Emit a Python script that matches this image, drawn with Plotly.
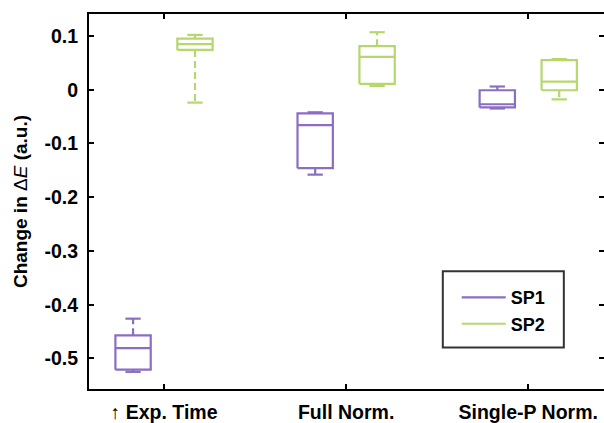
import plotly.graph_objects as go

# ---- data ----
categories = ["\u2191 Exp. Time", "Full Norm.", "Single-P Norm."]
positions = [1, 2, 3]

sp1_lower = [-0.525, -0.158, -0.035]
sp1_q1 = [-0.521, -0.146, -0.033]
sp1_median = [-0.481, -0.066, -0.027]
sp1_q3 = [-0.457, -0.044, -0.001]
sp1_upper = [-0.426, -0.042, 0.006]

sp2_lower = [-0.024, 0.007, -0.018]
sp2_q1 = [0.074, 0.011, -0.001]
sp2_median = [0.085, 0.061, 0.015]
sp2_q3 = [0.095, 0.081, 0.055]
sp2_upper = [0.102, 0.107, 0.057]

y_tickvals = [-0.5, -0.4, -0.3, -0.2, -0.1, 0, 0.1]
y_ticktext = ["-0.5", "-0.4", "-0.3", "-0.2", "-0.1", "0", "0.1"]

# ---- style ----
PURPLE = "#8a6ec2"
GREEN = "#b5d86c"
FONT = "Liberation Sans, Arial, sans-serif"
OFFSET = 0.17
HALF_W = 0.097
CAP_HALF = 0.042
LW = 2.2

series = [
    ("SP1", PURPLE, -OFFSET, sp1_lower, sp1_q1, sp1_median, sp1_q3, sp1_upper),
    ("SP2", GREEN, +OFFSET, sp2_lower, sp2_q1, sp2_median, sp2_q3, sp2_upper),
]

fig = go.Figure()

for name, color, off, lo, q1, med, q3, hi in series:
    bx, by = [], []
    wx, wy = [], []
    cx, cy = [], []
    for p, a, b, m, c, d in zip(positions, lo, q1, med, q3, hi):
        x = p + off
        # box outline
        bx += [x - HALF_W, x + HALF_W, x + HALF_W, x - HALF_W, x - HALF_W, None]
        by += [b, b, c, c, b, None]
        # median
        bx += [x - HALF_W, x + HALF_W, None]
        by += [m, m, None]
        # whiskers
        wx += [x, x, None, x, x, None]
        wy += [c, d, None, b, a, None]
        # caps
        cx += [x - CAP_HALF, x + CAP_HALF, None, x - CAP_HALF, x + CAP_HALF, None]
        cy += [d, d, None, a, a, None]
    fig.add_trace(go.Scatter(x=wx, y=wy, mode="lines", name=name, legendgroup=name,
                             showlegend=False, hoverinfo="skip",
                             line=dict(color=color, width=LW, dash="7px,4px")))
    fig.add_trace(go.Scatter(x=cx, y=cy, mode="lines", name=name, legendgroup=name,
                             showlegend=False, hoverinfo="skip",
                             line=dict(color=color, width=LW)))
    fig.add_trace(go.Scatter(x=bx, y=by, mode="lines", name=name, legendgroup=name,
                             showlegend=True,
                             line=dict(color=color, width=LW)))

# invisible trace to carry the right-hand y axis ticks
fig.add_trace(go.Scatter(x=[None], y=[None], yaxis="y2", showlegend=False, hoverinfo="skip"))

fig.update_layout(
    width=604, height=423,
    margin=dict(l=89, r=0, t=14, b=34, autoexpand=False),
    paper_bgcolor="white", plot_bgcolor="white",
    font=dict(family=FONT, size=19, color="black"),
    showlegend=True,
    legend=dict(
        x=0.714, y=0.293, xanchor="left", yanchor="top",
        bgcolor="rgba(0,0,0,0)", borderwidth=0,
        font=dict(family=FONT, size=18, color="black", weight="bold"),
        tracegroupgap=0, itemwidth=44,
    ),
    xaxis=dict(
        range=[0.588, 3.416], tickvals=positions, ticktext=categories,
        showgrid=False, zeroline=False, automargin=False,
        showline=True, linecolor="black", linewidth=2, mirror="ticks",
        ticks="inside", ticklen=5, tickwidth=2, tickcolor="black",
        tickfont=dict(family=FONT, size=19.5, color="black", weight="bold"),
        ticklabelstandoff=5,
    ),
    yaxis=dict(
        range=[-0.5569, 0.1409], tickvals=y_tickvals, ticktext=y_ticktext,
        showgrid=False, zeroline=False, automargin=False,
        showline=True, linecolor="black", linewidth=2, mirror=False,
        ticks="inside", ticklen=5, tickwidth=2, tickcolor="black",
        tickfont=dict(family=FONT, size=19.5, color="black", weight="bold"),
        ticklabelstandoff=5,
        title=dict(text="<b>Change in </b>\u0394<i>E</i><b> (a.u.)</b>",
                   font=dict(family=FONT, size=19, color="black"),
                   standoff=12),
    ),
    yaxis2=dict(
        overlaying="y", side="right", range=[-0.5569, 0.1409],
        tickvals=y_tickvals, showticklabels=False, showgrid=False,
        zeroline=False, showline=False, automargin=False,
        ticks="inside", ticklen=5, tickwidth=2, tickcolor="black",
    ),
    shapes=[
        dict(type="rect", xref="paper", yref="paper",
             x0=0.687, x1=0.922, y0=0.111, y1=0.314,
             line=dict(color="#333333", width=2), fillcolor="rgba(0,0,0,0)"),
    ],
)

fig.write_html("out.html")
